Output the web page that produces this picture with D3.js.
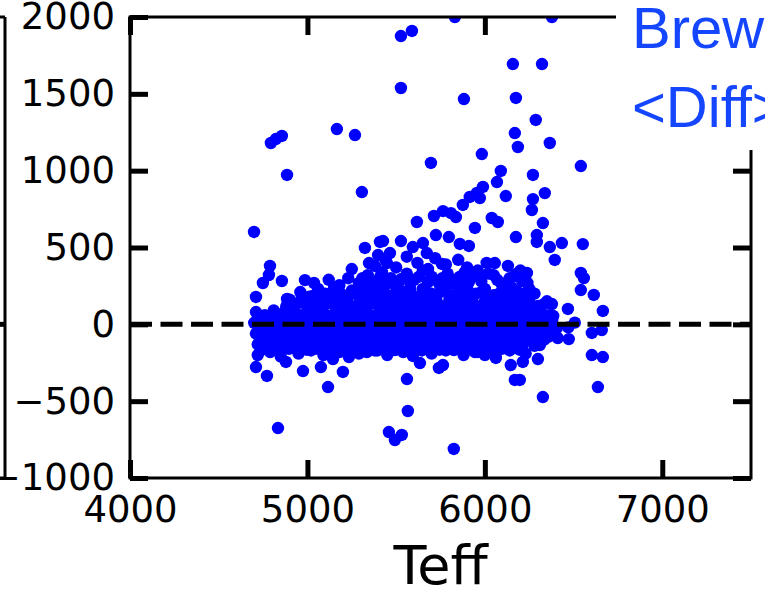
<!DOCTYPE html>
<html>
<head>
<meta charset="utf-8">
<script src="https://cdn.jsdelivr.net/npm/d3@7"></script>
<style>
  body { margin: 0; background: #fff; }
  svg { display: block; }
  .tick text { font-family: "DejaVu Sans", sans-serif; }
</style>
</head>
<body>
<svg id="chart" width="765" height="595"></svg>
<script>
// axis values
const teffTicks = [4000, 5000, 6000, 7000];
const diffTicks = [-1000, -500, 0, 500, 1000, 1500, 2000];
const xLabel = "Teff";
const noteLines = ["Brewer", "<Diff>"];

// [Teff, difference]
const upperStars = [
  [5831, 2000], [6378, 2000], [5527, 1876], [5589, 1909], [5527, 1538], [5882, 1466],
  [6158, 1694], [6322, 1694], [6175, 1473], [6287, 1330], [6169, 1245], [6186, 1154],
  [6366, 1180], [6541, 1030], [5983, 1108], [6090, 998], [6068, 926], [5876, 777],
  [5915, 829], [5955, 855], [5989, 894], [5972, 822], [6118, 835], [6271, 972],
  [6271, 815], [6338, 854], [6265, 744], [6039, 692], [6073, 666], [6327, 659],
  [6175, 568], [6293, 581], [6293, 536], [6366, 503], [6434, 529], [6394, 419],
  [6552, 522], [6056, 399], [6237, 334], [6541, 334], [6558, 301], [6541, 223],
  [6614, 191], [6665, 87], [6378, 132], [6468, 100], [6507, 11],
  [4794, 1180], [4822, 1206], [4856, 1226], [4885, 972], [5166, 1271], [5268, 1232],
  [5307, 861], [4699, 601], [5324, 497], [5409, 536], [5696, 1050], [5617, 666],
  [5713, 705], [5764, 737], [5809, 724], [5837, 698], [5944, 627], [5426, 542],
  [5527, 542], [5594, 503], [5651, 529], [5673, 464], [5398, 451], [5465, 464],
  [5448, 399], [5347, 399], [5724, 581], [5797, 568], [5859, 523], [5910, 510],
  [5758, 393], [5887, 340], [4789, 380], [4783, 321], [4749, 269], [4856, 282],
  [4710, 178], [4885, 165], [4986, 288], [5037, 269], [4969, 178]
];

const coreStars = [
  [5120, 290], [5180, 255], [5230, 300], [5290, 270], [5340, 320], [5390, 280], [5420, 340],
  [5470, 300], [5510, 260], [5560, 330], [5600, 290], [5650, 350], [5700, 310], [5740, 270],
  [5790, 330], [5830, 290], [5880, 260], [5930, 310], [5980, 280], [6020, 330], [6070, 290],
  [6110, 260], [6160, 310], [6210, 280],
  [5310, 300], [5360, 260], [5410, 310], [5450, 265], [5530, 295], [5580, 265], [5630, 310],
  [5680, 275], [5760, 300], [5810, 265], [5860, 310], [5910, 275], [5960, 320], [6050, 320],
  [6090, 270], [6140, 300], [6180, 330], [6240, 270],
  [5380, 380], [5440, 420], [5500, 370], [5560, 440], [5620, 400], [5680, 360], [5720, 430],
  [5780, 390], [5850, 420], [5900, 370], [5960, 350], [6010, 400], [6130, 380], [6200, 350],
  [5250, 360],
  [4960, 210], [5010, 180], [5060, 230], [5100, 200], [5150, 240], [5200, 190], [5250, 220],
  [5300, 250], [5350, 200], [5400, 230], [5450, 190], [5500, 240], [5550, 210], [5600, 180],
  [5650, 230], [5700, 200], [5750, 250], [5800, 190], [5850, 220], [5900, 240], [5950, 200],
  [6000, 230], [6050, 190], [6100, 220], [6150, 240], [6200, 200], [6250, 230],
  [5030, 185], [5080, 200], [5130, 175], [5180, 210], [5230, 180], [5280, 195], [5330, 225],
  [5380, 175], [5430, 210], [5480, 185], [5530, 200], [5580, 225], [5630, 180], [5680, 205],
  [5730, 190], [5780, 215], [5830, 180], [5880, 200], [5930, 185], [5980, 210], [6030, 175],
  [6080, 200], [6130, 190], [6180, 215], [6230, 185], [6280, 200],
  [4900, 160], [4950, 140], [5000, 110], [5050, 160], [5100, 130], [5150, 170], [5200, 140],
  [5250, 110], [5300, 160], [5350, 140], [5400, 170], [5450, 120], [5500, 150], [5550, 170],
  [5600, 130], [5650, 160], [5700, 140], [5750, 110], [5800, 160], [5850, 140], [5900, 170],
  [5950, 120], [6000, 150], [6050, 170], [6100, 130], [6150, 160], [6200, 140], [6250, 170],
  [6300, 120], [6350, 150],
  [4880, 115], [4930, 125], [4980, 140], [5030, 120], [5080, 105], [5130, 140], [5180, 115],
  [5230, 130], [5280, 125], [5330, 110], [5380, 135], [5430, 150], [5480, 115], [5530, 125],
  [5580, 140], [5630, 110], [5680, 125], [5730, 145], [5780, 120], [5830, 110], [5880, 130],
  [5930, 150], [5980, 115], [6030, 125], [6080, 140], [6130, 110], [6180, 120], [6230, 135],
  [6280, 115], [6330, 130],
  [4710, 80], [4760, 60], [4810, 90], [4860, 70], [4910, 100], [4960, 60], [5010, 80],
  [5060, 100], [5110, 60], [5160, 90], [5210, 70], [5260, 100], [5310, 80], [5360, 60],
  [5410, 90], [5460, 70], [5510, 100], [5560, 80], [5610, 60], [5660, 90], [5710, 70],
  [5760, 100], [5810, 80], [5860, 60], [5910, 90], [5960, 70], [6010, 100], [6060, 80],
  [6110, 60], [6160, 90], [6210, 70], [6260, 100], [6310, 80], [6360, 60],
  [4735, 45], [4785, 55], [4835, 40], [4885, 50], [4935, 35], [4985, 55], [5035, 45],
  [5085, 40], [5135, 55], [5185, 45], [5235, 35], [5285, 50], [5335, 40], [5385, 55],
  [5435, 45], [5485, 35], [5535, 50], [5585, 40], [5635, 55], [5685, 45], [5735, 35],
  [5785, 50], [5835, 40], [5885, 55], [5935, 45], [5985, 35], [6035, 50], [6085, 40],
  [6135, 55], [6185, 45], [6235, 35], [6285, 50], [6335, 40], [6385, 55],
  [4700, 10], [4730, -20], [4780, 30], [4830, 0], [4880, 20], [4930, -10], [4980, 30],
  [5030, 0], [5080, 20], [5130, -10], [5180, 30], [5230, 0], [5280, 20], [5330, -10],
  [5380, 30], [5430, 0], [5480, 20], [5530, -10], [5580, 30], [5630, 0], [5680, 20],
  [5730, -10], [5780, 30], [5830, 0], [5880, 20], [5930, -10], [5980, 30], [6030, 0],
  [6080, 20], [6130, -10], [6180, 30], [6230, 0], [6280, 20], [6330, -10], [6380, 30],
  [6470, -20],
  [4725, -35], [4755, -25], [4805, -40], [4855, -30], [4905, -25], [4955, -40], [5005, -30],
  [5055, -20], [5105, -35], [5155, -25], [5205, -40], [5255, -30], [5305, -20], [5355, -35],
  [5405, -25], [5455, -40], [5505, -30], [5555, -20], [5605, -35], [5655, -25], [5705, -40],
  [5755, -30], [5805, -20], [5855, -35], [5905, -25], [5955, -40], [6005, -30], [6055, -20],
  [6105, -35], [6155, -25], [6205, -40], [6255, -30], [6305, -20], [6355, -35], [6405, -25],
  [4710, -60], [4760, -80], [4810, -50], [4860, -70], [4910, -40], [4960, -80], [5010, -60],
  [5060, -40], [5110, -80], [5160, -50], [5210, -70], [5260, -40], [5310, -60], [5360, -80],
  [5410, -50], [5460, -70], [5510, -40], [5560, -60], [5610, -80], [5660, -50], [5710, -70],
  [5760, -40], [5810, -60], [5860, -80], [5910, -50], [5960, -70], [6010, -40], [6060, -60],
  [6110, -80], [6160, -50], [6210, -70], [6260, -40], [6310, -60], [6360, -80],
  [4735, -100], [4785, -90], [4835, -105], [4885, -95], [4935, -100], [4985, -90], [5035, -105],
  [5085, -95], [5135, -100], [5185, -90], [5235, -105], [5285, -95], [5335, -100], [5385, -90],
  [5435, -105], [5485, -95], [5535, -100], [5585, -90], [5635, -105], [5685, -95], [5735, -100],
  [5785, -90], [5835, -105], [5885, -95], [5935, -100], [5985, -90], [6035, -105], [6085, -95],
  [6135, -100], [6185, -90], [6235, -105], [6285, -95], [6335, -100],
  [4720, -130], [4770, -110], [4820, -150], [4870, -120], [4920, -140], [4970, -110],
  [5020, -150], [5070, -130], [5120, -110], [5170, -140], [5220, -120], [5270, -150],
  [5320, -110], [5370, -130], [5420, -150], [5470, -120], [5520, -140], [5570, -110],
  [5620, -130], [5670, -150], [5720, -120], [5770, -140], [5820, -110], [5870, -130],
  [5920, -150], [5970, -120], [6020, -140], [6070, -110], [6120, -130], [6170, -150],
  [6220, -120], [6280, -140],
  [4745, -165], [4795, -155], [4845, -170], [4895, -160], [4945, -150], [4995, -165],
  [5045, -160], [5095, -150], [5145, -170], [5195, -155], [5245, -165], [5295, -150],
  [5345, -160], [5395, -170], [5445, -155], [5495, -165], [5545, -150], [5595, -160],
  [5645, -170], [5695, -155], [5745, -165], [5795, -150], [5845, -160], [5895, -170],
  [5945, -155], [5995, -165], [6045, -150], [6095, -160], [6145, -150], [6195, -165],
  [4720, -200], [4790, -180], [4850, -210], [4950, -190], [5020, -170], [5090, -200],
  [5180, -180], [5290, -190], [5380, -170], [5450, -200], [5540, -180], [5700, -190],
  [5780, -170], [5880, -200], [5960, -180], [6060, -190], [6140, -170], [6230, -190]
];

const lowerStars = [
  [6603, -56], [6659, -37], [6473, -96], [6411, -89], [6310, -135], [6299, -226],
  [6214, -245], [6603, -200], [6665, -213], [6637, -408], [6197, -362], [6327, -473],
  [4710, -278], [4772, -336], [4879, -245], [4975, -304], [5076, -278], [5200, -310],
  [5116, -408], [5234, -213], [5144, -226], [5335, -180], [4834, -675], [5561, -356],
  [5566, -564], [5459, -701], [5493, -753], [5532, -720], [5825, -811], [5741, -284],
  [5764, -265], [5594, -206], [5634, -252], [5493, -167], [5825, -167], [5944, -180],
  [6000, -200], [6062, -219], [6146, -265], [6169, -362]
];

const svg = d3.select("#chart");
const plotL = 130, plotR = 751, plotT = 17, plotB = 478;

const x = d3.scaleLinear().domain([4000, 7500]).range([plotL, plotR]);
const y = d3.scaleLinear().domain([-1000, 2000]).range([plotB, plotT]);

// bit of the neighbouring panel on the far left
const side = svg.append("g").attr("stroke", "#000").attr("stroke-width", 3);
side.append("line").attr("x1", 5).attr("x2", 5).attr("y1", plotT).attr("y2", plotB);
side.append("line").attr("x1", 0).attr("x2", 5).attr("y1", plotT).attr("y2", plotT);
side.append("line").attr("x1", 0).attr("x2", 5).attr("y1", plotB).attr("y2", plotB);
side.append("line").attr("x1", 0).attr("x2", 5).attr("y1", y(0)).attr("y2", y(0)).attr("stroke-width", 5);

svg.append("clipPath").attr("id", "plot-clip")
  .append("rect").attr("x", plotL).attr("y", plotT)
  .attr("width", plotR - plotL).attr("height", plotB - plotT);

const allStars = upperStars.concat(coreStars, lowerStars);
svg.append("g").attr("clip-path", "url(#plot-clip)")
  .selectAll("circle").data(allStars).join("circle")
  .attr("cx", d => x(d[0]))
  .attr("cy", d => y(d[1]))
  .attr("r", 6.2)
  .attr("fill", "#0000ff");

// zero line
svg.append("line")
  .attr("x1", x(4000)).attr("x2", x(7500))
  .attr("y1", y(0)).attr("y2", y(0))
  .attr("stroke", "#000").attr("stroke-width", 5)
  .attr("stroke-dasharray", "22,8.5");

function styleAxis(g) {
  g.select(".domain").remove();
  g.selectAll(".tick line").attr("stroke", "#000").attr("stroke-width", 5);
  g.selectAll(".tick text").attr("fill", "#000").attr("font-size", 37);
}

const plain = d3.format("d");
svg.append("g").attr("transform", `translate(0,${plotB})`)
  .call(d3.axisBottom(x).tickValues(teffTicks).tickFormat(plain).tickSizeInner(-18).tickSizeOuter(0).tickPadding(18))
  .call(styleAxis);
svg.append("g").attr("transform", `translate(0,${plotT})`)
  .call(d3.axisTop(x).tickValues(teffTicks).tickSizeInner(-18).tickSizeOuter(0).tickFormat(""))
  .call(styleAxis);
svg.append("g").attr("transform", `translate(${plotL},0)`)
  .call(d3.axisLeft(y).tickValues(diffTicks).tickFormat(plain).tickSizeInner(-18).tickSizeOuter(0).tickPadding(15))
  .call(styleAxis);
svg.append("g").attr("transform", `translate(${plotR},0)`)
  .call(d3.axisRight(y).tickValues(diffTicks).tickSizeInner(-18).tickSizeOuter(0).tickFormat(""))
  .call(styleAxis);

svg.append("rect")
  .attr("x", plotL).attr("y", plotT)
  .attr("width", plotR - plotL).attr("height", plotB - plotT)
  .attr("fill", "none").attr("stroke", "#000").attr("stroke-width", 3);

// label box over the top right corner
svg.append("rect").attr("x", 616).attr("y", 0).attr("width", 149).attr("height", 150).attr("fill", "#fff");
svg.selectAll(".note").data(noteLines).join("text")
  .attr("class", "note")
  .attr("x", 632)
  .attr("y", (d, i) => 48 + i * 79)
  .attr("font-family", "'Liberation Sans', Arial, sans-serif")
  .attr("font-size", 58)
  .attr("fill", "#1446ff")
  .text(d => d);

svg.append("text")
  .attr("x", (plotL + plotR) / 2)
  .attr("y", 584)
  .attr("text-anchor", "middle")
  .attr("font-family", "'DejaVu Sans', sans-serif")
  .attr("font-size", 54)
  .text(xLabel);
</script>
</body>
</html>
